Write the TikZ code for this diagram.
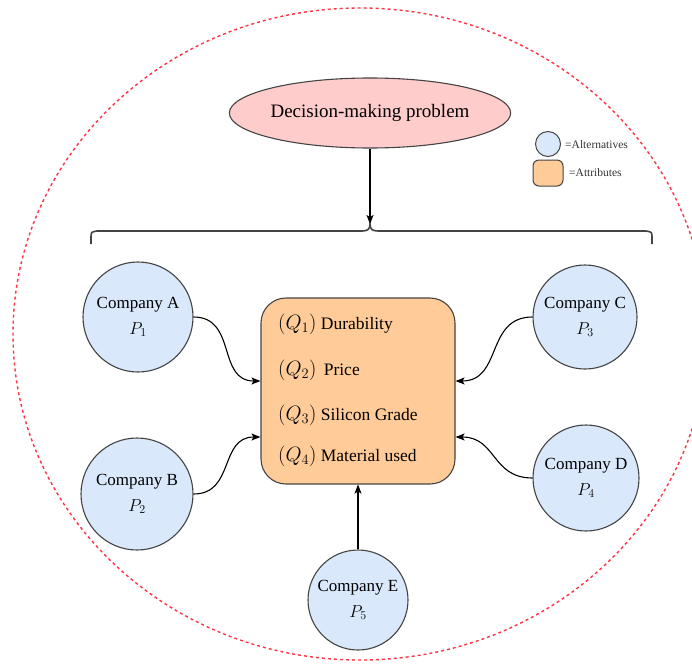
\documentclass[tikz,border=0pt]{standalone}
\usepackage{fontspec}
\setmainfont{Liberation Serif}
\usetikzlibrary{arrows.meta,shapes.geometric}
\definecolor{altfill}{HTML}{DAE8FC}
\definecolor{attfill}{HTML}{FFCC99}
\definecolor{probfill}{HTML}{FFCCCC}
\definecolor{edgegray}{HTML}{444444}
\definecolor{dashred}{HTML}{FF3344}
\begin{document}
\begin{tikzpicture}[x=1pt,y=-1pt,
  alt/.style={circle,draw=edgegray,line width=1.1pt,fill=altfill,inner sep=0pt,align=center,font=\fontsize{17}{20}\selectfont},
  conn/.style={line width=1.1pt,-{Stealth[length=9pt,width=7pt,inset=2pt]}},
  qline/.style={anchor=base west,inner sep=0pt,font=\fontsize{17.5}{20}\selectfont},
  legtxt/.style={anchor=west,inner sep=0pt,font=\fontsize{11.5}{13}\selectfont,text=black!80},
]
\useasboundingbox (0,0) rectangle (692,669);
% outer dashed boundary
\draw[dashred,line width=1.4pt,dash pattern=on 3pt off 3pt] (360,334) ellipse [x radius=347, y radius=326];

% problem
\node[ellipse,draw=edgegray,line width=1.1pt,fill=probfill,minimum width=220,minimum height=70,inner sep=0pt,font=\fontsize{19}{22}\selectfont] (prob) at (370,113) {Decision-making problem};

% brace
\coordinate (tip) at (370,224);
\draw[edgegray,line width=1.6pt] (91,244) -- (91,238) .. controls (91,232) .. (97,231) -- (362,231) .. controls (368,231) and (370,229) .. (tip) .. controls (370,229) and (372,231) .. (378,231) -- (646,231) .. controls (652,232) .. (652,238) -- (652,244);
\draw[conn] (prob.south) -- (tip);

% legend
\node[circle,draw=edgegray,fill=altfill,minimum size=25,inner sep=0pt,line width=1pt] (lalt) at (548,144) {};
\node[legtxt] (lalttxt) at (565,145) {=Alternatives};
\node[draw=edgegray,fill=attfill,rounded corners=6pt,minimum width=30,minimum height=26,inner sep=0pt,line width=1pt] (latt) at (548,173) {};
\node[legtxt] (latttxt) at (569,173) {=Attributes};

% attributes
\node[draw=edgegray,line width=1.1pt,fill=attfill,rounded corners=25pt,minimum width=194,minimum height=186,inner sep=0pt] (attr) at (358,391) {};
\node[qline] (q1) at (278,329) {{\fontsize{20}{22}\selectfont$(Q_1)$} Durability};
\node[qline] (q2) at (278,375) {{\fontsize{20}{22}\selectfont$(Q_2)$} \,Price};
\node[qline] (q3) at (278,420) {{\fontsize{20}{22}\selectfont$(Q_3)$} Silicon Grade};
\node[qline] (q4) at (278,461) {{\fontsize{20}{22}\selectfont$(Q_4)$} Material used};

% alternatives
\node[alt,minimum size=110] (A) at (138,317) {Company A\\[6pt]$P_1$};
\node[alt,minimum size=112] (B) at (137,494) {Company B\\[6pt]$P_2$};
\node[alt,minimum size=104] (C) at (585,317) {Company C\\[6pt]$P_3$};
\node[alt,minimum size=106] (D) at (586,478) {Company D\\[6pt]$P_4$};
\node[alt,minimum size=100] (E) at (358,600) {Company E\\[6pt]$P_5$};

% entry points
\path (attr.west) ++(0,-10) coordinate (inA);
\path (attr.west) ++(0,46) coordinate (inB);
\path (attr.east) ++(0,-10) coordinate (inC);
\path (attr.east) ++(0,46) coordinate (inD);

\draw[conn] (A.east) to[out=0,in=180,looseness=1.2] (inA);
\draw[conn] (B.east) to[out=0,in=180,looseness=1.2] (inB);
\draw[conn] (C.west) to[out=180,in=0,looseness=1.2] (inC);
\draw[conn] (D.west) to[out=180,in=0,looseness=1.2] (inD);
\draw[conn] (E.north) -- (attr.south -| E.north);
\end{tikzpicture}
\end{document}
